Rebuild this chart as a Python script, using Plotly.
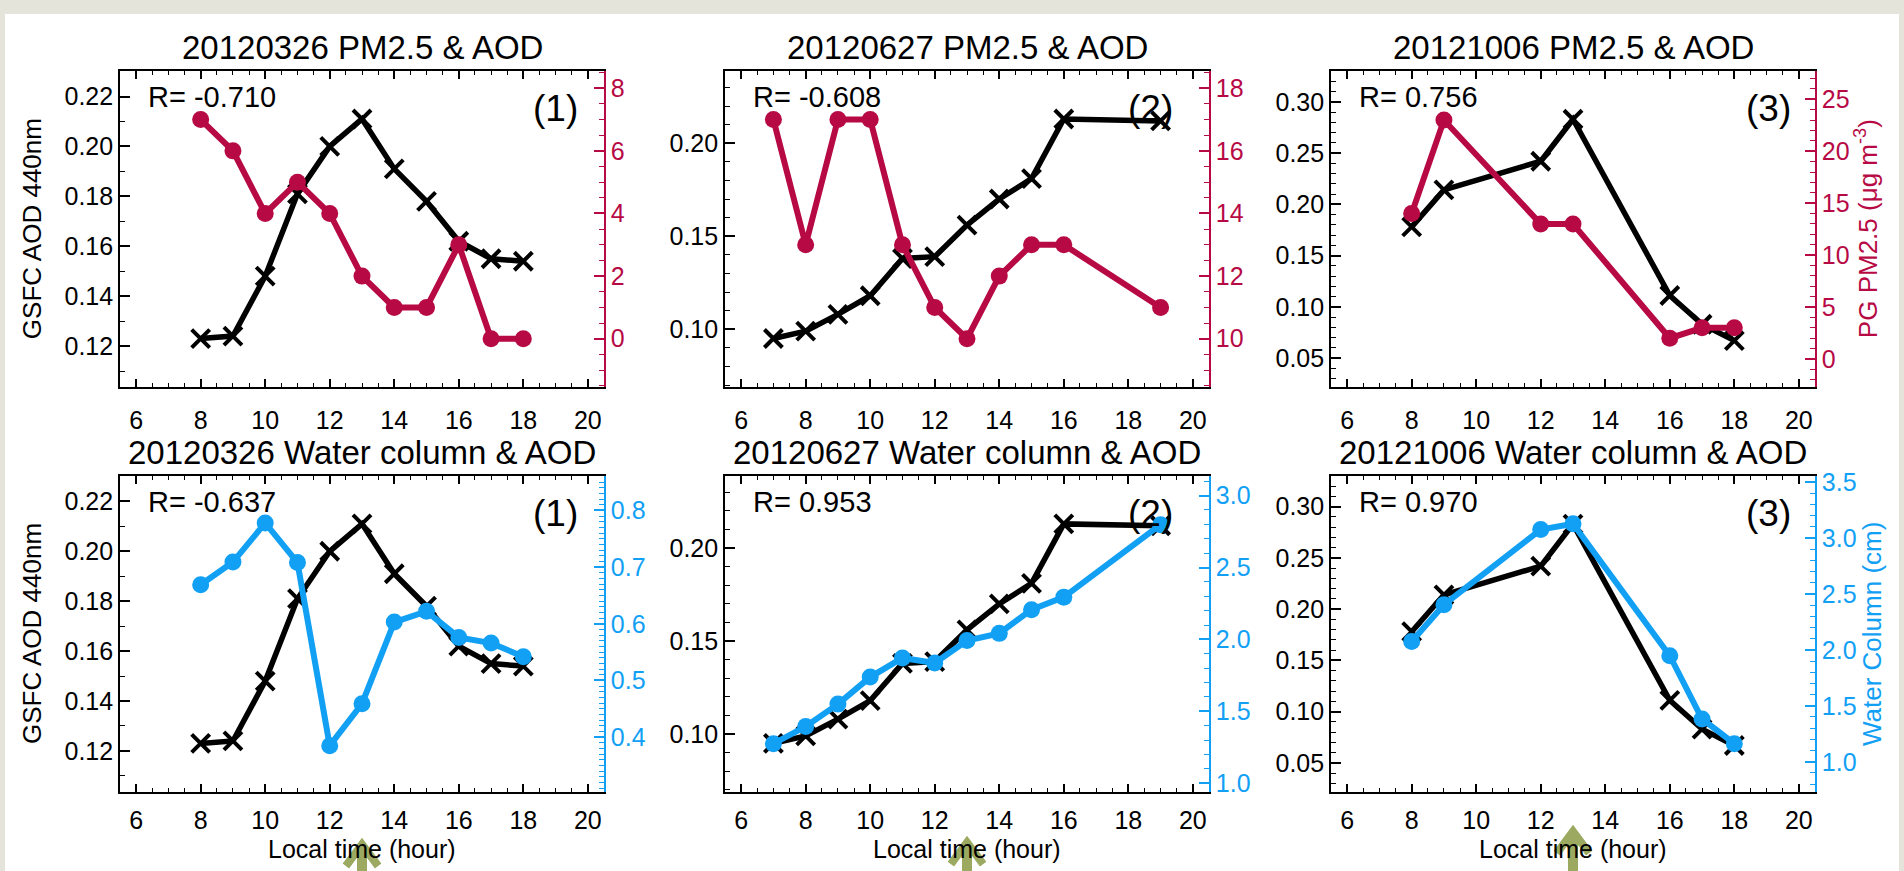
import plotly.graph_objects as go

W, H = 1904, 871

# ---------------- data ----------------
dates = ["20120326", "20120627", "20121006"]

hours_0326 = [8, 9, 10, 11, 12, 13, 14, 15, 16, 17, 18]
aod_0326 = [0.123, 0.124, 0.148, 0.181, 0.200, 0.211, 0.191, 0.178, 0.162, 0.155, 0.154]
pm25_0326 = [7, 6, 4, 5, 4, 2, 1, 1, 3, 0, 0]
water_0326 = [0.669, 0.709, 0.778, 0.708, 0.385, 0.459, 0.603, 0.622, 0.576, 0.566, 0.542]

hours_0627 = [7, 8, 9, 10, 11, 12, 13, 14, 15, 16, 19]
aod_0627 = [0.095, 0.099, 0.108, 0.118, 0.138, 0.139, 0.156, 0.170, 0.181, 0.213, 0.212]
pm25_0627 = [17, 13, 17, 17, 13, 11, 10, 12, 13, 13, 11]
water_0627 = [1.275, 1.394, 1.550, 1.738, 1.871, 1.836, 1.992, 2.042, 2.207, 2.294, 2.798]

hours_1006 = [8, 9, 12, 13, 16, 17, 18]
aod_1006 = [0.178, 0.214, 0.242, 0.283, 0.111, 0.083, 0.067]
pm25_1006 = [14, 23, 13, 13, 2, 3, 3]
water_1006 = [2.074, 2.403, 3.074, 3.126, 1.947, 1.382, 1.162]

r_pm = ["-0.710", "-0.608", "0.756"]
r_water = ["-0.637", "0.953", "0.970"]
panel_tags = ["(1)", "(2)", "(3)"]
overpass_hour = 13

hours = [hours_0326, hours_0627, hours_1006]
aods = [aod_0326, aod_0627, aod_1006]
pms = [pm25_0326, pm25_0627, pm25_1006]
waters = [water_0326, water_0627, water_1006]

# ---------------- style ----------------
FONT = "Liberation Sans, Arial, Helvetica, sans-serif"
CRIMSON = "#B70A45"
BLUE = "#12A0F5"
OLIVE = "#9BAA60"
BLACK = "#000000"

col_left = [120, 725, 1331]
PW = 484
row_top = [64, 475]
PH = 321

aod_ranges = [[0.1035, 0.2302], [0.0688, 0.2388], [0.0215, 0.3300]]
aod_dtick = [0.02, 0.05, 0.05]
pm_ranges = [[-1.55, 8.55], [8.45, 18.55], [-2.72, 27.72]]
pm_dtick = [2, 2, 5]
pm_minor = [0.5, 0.5, 1]
wat_ranges = [[0.303, 0.861], [0.938, 3.137], [0.729, 3.553]]
wat_dtick = [0.1, 0.5, 0.5]
wat_minor = [0.01, 0.1, 0.1]


def xp(px):
    return px / W


def yp(py):
    return 1 - py / H


fig = go.Figure()
layout = {}
annotations = []
shapes = []

# white slide area on light grey border
shapes.append(dict(type="rect", xref="paper", yref="paper", x0=xp(5), x1=xp(1899),
                   y0=-0.01, y1=yp(6), fillcolor="white", line=dict(width=0), layer="below"))

for p in range(6):
    row, col = divmod(p, 3)
    n = p + 1
    xa = "x" if n == 1 else f"x{n}"
    ya = "y" if n == 1 else f"y{n}"
    yr_name = f"y{n + 6}"
    L = col_left[col]
    T = row_top[row]
    xdom = [xp(L), xp(L + PW)]
    ydom = [yp(T + PH), yp(T)]

    layout["xaxis" if n == 1 else f"xaxis{n}"] = dict(
        domain=xdom, anchor=ya, range=[5.5, 20.5], tick0=0, dtick=2,
        ticks="inside", ticklen=8, tickwidth=1.5, tickcolor=BLACK,
        minor=dict(tick0=0, dtick=0.5, ticks="inside", ticklen=4, tickwidth=1.2, tickcolor=BLACK),
        showline=True, linecolor=BLACK, linewidth=1.6, mirror="ticks",
        showgrid=False, zeroline=False, ticklabelstandoff=10 if row == 0 else 5,
        tickfont=dict(family=FONT, size=25, color=BLACK),
    )
    layout["yaxis" if n == 1 else f"yaxis{n}"] = dict(
        domain=ydom, anchor=xa, range=aod_ranges[col], tick0=0, dtick=aod_dtick[col],
        tickformat=".2f",
        ticks="inside", ticklen=10, tickwidth=1.5, tickcolor=BLACK,
        minor=dict(tick0=0, dtick=0.01, ticks="inside", ticklen=5, tickwidth=1.2, tickcolor=BLACK),
        showline=True, linecolor=BLACK, linewidth=1.6, mirror=False,
        showgrid=False, zeroline=False, ticklabelstandoff=0,
        tickfont=dict(family=FONT, size=25, color=BLACK),
    )
    if row == 0:
        rc = CRIMSON
        rrange, rdt, rmin, rfmt = pm_ranges[col], pm_dtick[col], pm_minor[col], "d"
        rvals = pms[col]
    else:
        rc = BLUE
        rrange, rdt, rmin, rfmt = wat_ranges[col], wat_dtick[col], wat_minor[col], ".1f"
        rvals = waters[col]
    layout[f"yaxis{n + 6}"] = dict(
        overlaying=ya, side="right", anchor=xa, range=rrange, tick0=0, dtick=rdt,
        tickformat=rfmt,
        ticks="inside", ticklen=10, tickwidth=1.5, tickcolor=rc,
        minor=dict(tick0=0, dtick=rmin, ticks="inside", ticklen=5, tickwidth=1.2, tickcolor=rc),
        showline=True, linecolor=rc, linewidth=1.6,
        showgrid=False, zeroline=False, ticklabelstandoff=0,
        tickfont=dict(family=FONT, size=25, color=rc),
    )

    # AOD (black crosses)
    fig.add_trace(go.Scatter(
        x=hours[col], y=aods[col], xaxis=xa, yaxis=ya, mode="lines+markers",
        line=dict(color=BLACK, width=5.5),
        marker=dict(symbol="x-thin", size=18, line=dict(color=BLACK, width=4)),
        showlegend=False, cliponaxis=False,
    ))
    # PM2.5 or water column (filled circles)
    fig.add_trace(go.Scatter(
        x=hours[col], y=rvals, xaxis=xa, yaxis=yr_name, mode="lines+markers",
        line=dict(color=rc, width=6),
        marker=dict(symbol="circle", size=17, color=rc),
        showlegend=False, cliponaxis=False,
    ))

    # title
    kind = "PM2.5 & AOD" if row == 0 else "Water column & AOD"
    annotations.append(dict(
        text=f"{dates[col]} {kind}", xref="paper", yref="paper",
        x=xp(L + PW / 2), y=yp(T - 24), xanchor="center", yanchor="middle",
        showarrow=False, font=dict(family=FONT, size=33, color=BLACK)))
    # R value
    rtxt = r_pm[col] if row == 0 else r_water[col]
    annotations.append(dict(
        text=f"R= {rtxt}", xref="paper", yref="paper",
        x=xp(L + 26), y=yp(T + 26), xanchor="left", yanchor="middle",
        showarrow=False, font=dict(family=FONT, size=29, color=BLACK)))
    # panel tag
    tag_off = [24, 34, 22][col]
    annotations.append(dict(
        text=panel_tags[col], xref="paper", yref="paper",
        x=xp(L + PW - tag_off), y=yp(T + 38), xanchor="right", yanchor="middle",
        showarrow=False, font=dict(family=FONT, size=37, color=BLACK)))

    if row == 1:
        annotations.append(dict(
            text="Local time (hour)", xref="paper", yref="paper",
            x=xp(L + PW / 2), y=yp(854), xanchor="center", yanchor="middle",
            showarrow=False, font=dict(family=FONT, size=25, color=BLACK)))
        # green arrow pointing at the overpass time
        tip = [849, 847, 836][col]
        shapes.append(dict(type="line", xref=xa, yref="paper",
                           x0=overpass_hour, x1=overpass_hour, y0=yp(tip + 4), y1=yp(880),
                           line=dict(color=OLIVE, width=10)))
        shapes.append(dict(type="path", xref=xa, yref="paper",
                           path=f"M {overpass_hour - 0.5},{yp(tip + 22)} L {overpass_hour},{yp(tip)} "
                                f"L {overpass_hour + 0.5},{yp(tip + 22)}",
                           line=dict(color=OLIVE, width=8)))

# axis titles
for row in range(2):
    T = row_top[row]
    annotations.append(dict(
        text="GSFC AOD 440nm", xref="paper", yref="paper", x=xp(32), y=yp(T + PH / 2),
        xanchor="center", yanchor="middle", textangle=-90, showarrow=False,
        font=dict(family=FONT, size=26, color=BLACK)))
annotations.append(dict(
    text="PG PM2.5 (μg m<sup>-3</sup>)", xref="paper", yref="paper", x=xp(1866), y=yp(row_top[0] + PH / 2),
    xanchor="center", yanchor="middle", textangle=-90, showarrow=False,
    font=dict(family=FONT, size=26, color=CRIMSON)))
annotations.append(dict(
    text="Water Column (cm)", xref="paper", yref="paper", x=xp(1872), y=yp(row_top[1] + PH / 2),
    xanchor="center", yanchor="middle", textangle=-90, showarrow=False,
    font=dict(family=FONT, size=26, color=BLUE)))

fig.update_layout(
    width=W, height=H, autosize=False,
    margin=dict(l=0, r=0, t=0, b=0),
    paper_bgcolor="#E4E4DA", plot_bgcolor="white",
    annotations=annotations, shapes=shapes,
    font=dict(family=FONT, color=BLACK),
    **layout,
)

fig.write_html("out.html")
